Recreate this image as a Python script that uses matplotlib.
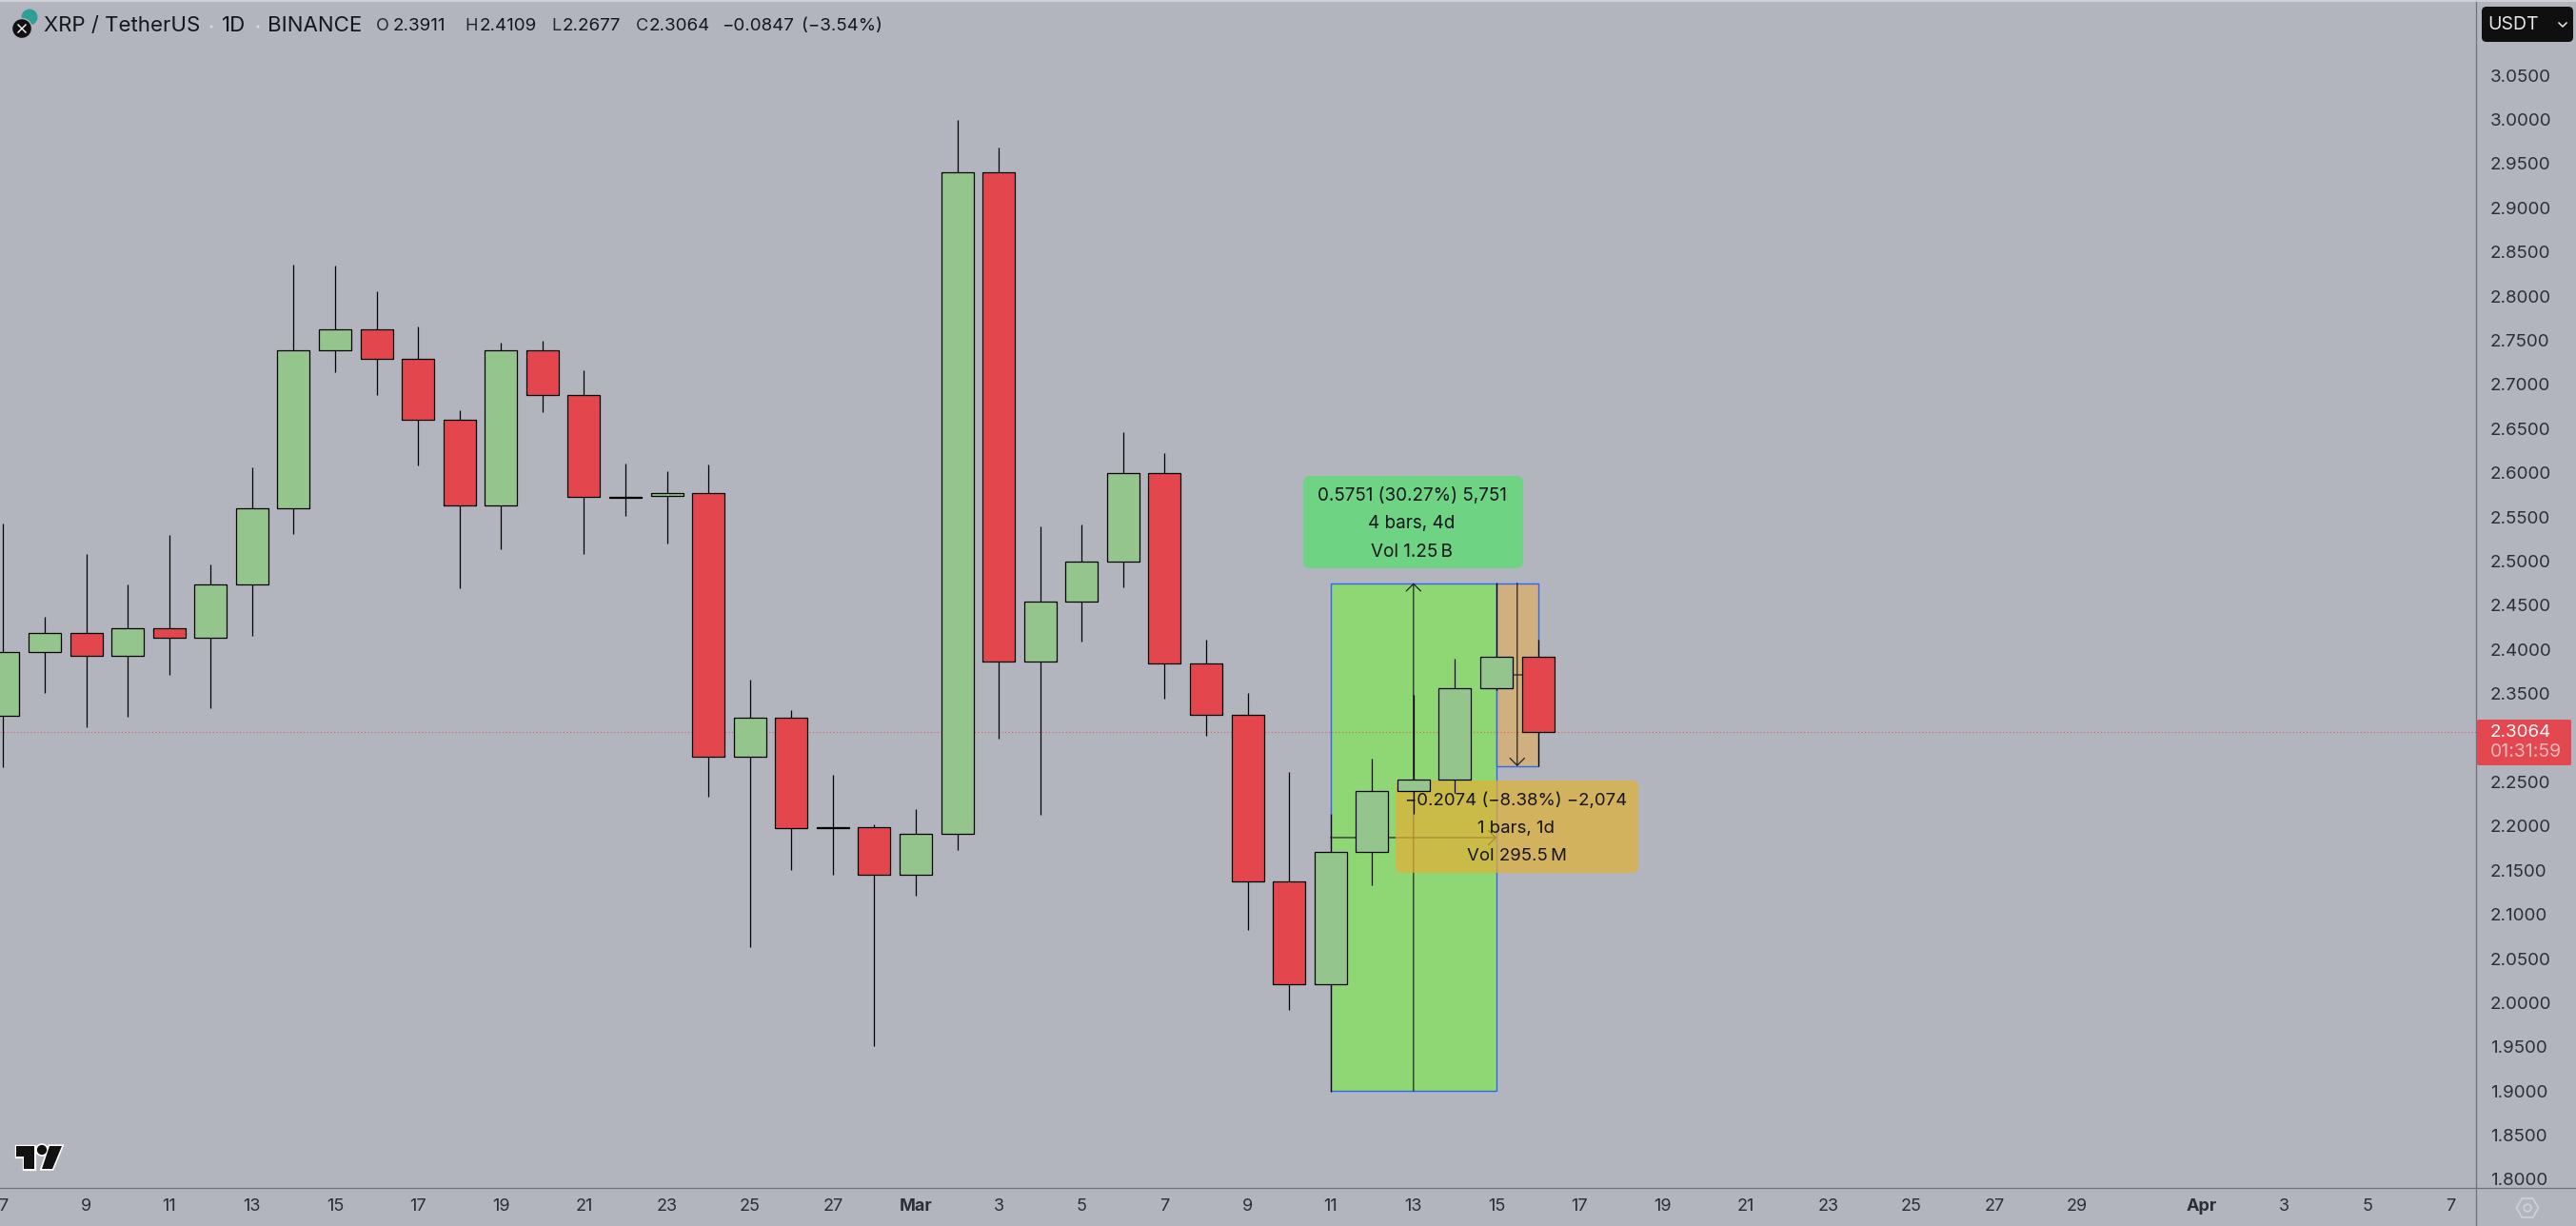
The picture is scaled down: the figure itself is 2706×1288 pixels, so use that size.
import matplotlib
matplotlib.use('Agg')
import matplotlib.pyplot as plt
import numpy as np
from matplotlib.lines import Line2D
from matplotlib.patches import Circle, FancyBboxPatch, Polygon, Rectangle, RegularPolygon
from matplotlib.transforms import Affine2D

plt.rcParams['font.family'] = ['Inter', 'DejaVu Sans']

# days counted from 1 March, one candle per day (7 Feb .. 16 Mar)
days = list(range(-22, 16))
opens = [2.3243, 2.3967, 2.4183, 2.3923, 2.4238, 2.4127, 2.4732, 2.5593, 2.7381, 2.7619,
         2.7285, 2.6598, 2.5626, 2.7381, 2.6876, 2.5722, 2.5734, 2.5767, 2.2780, 2.3223,
         2.1971, 2.1983, 2.1446, 2.1908, 2.9396, 2.3865, 2.4536, 2.4998, 2.5999, 2.3843,
         2.3259, 2.1376, 2.0209, 2.1707, 2.2397, 2.2526, 2.3560, 2.3911]
highs = [2.5425, 2.4368, 2.5080, 2.4735, 2.5296, 2.4962, 2.6060, 2.8357, 2.8346, 2.8053,
         2.7656, 2.6706, 2.7474, 2.7492, 2.7158, 2.6105, 2.6019, 2.6094, 2.3658, 2.3313,
         2.2580, 2.2017, 2.2192, 2.9996, 2.9682, 2.5394, 2.5416, 2.6460, 2.6224, 2.4107,
         2.3506, 2.2612, 2.2138, 2.2763, 2.3485, 2.3894, 2.4756, 2.4109]
lows = [2.2666, 2.3511, 2.3114, 2.3240, 2.3715, 2.3329, 2.4153, 2.5311, 2.7140, 2.6884,
        2.6086, 2.4695, 2.5129, 2.6680, 2.5084, 2.5515, 2.5203, 2.2337, 2.0633, 2.1506,
        2.1451, 1.9512, 2.1216, 2.1732, 2.2986, 2.2123, 2.4085, 2.4707, 2.3437, 2.3019,
        2.0827, 1.9922, 1.8995, 2.1333, 2.2138, 2.2375, 2.3539, 2.2677]
closes = [2.3967, 2.4183, 2.3923, 2.4238, 2.4127, 2.4732, 2.5593, 2.7381, 2.7619, 2.7285,
          2.6598, 2.5626, 2.7381, 2.6876, 2.5722, 2.5716, 2.5767, 2.2780, 2.3223, 2.1971,
          2.1985, 2.1446, 2.1907, 2.9396, 2.3865, 2.4536, 2.4998, 2.5999, 2.3843, 2.3255,
          2.1376, 2.0209, 2.1707, 2.2397, 2.2526, 2.3560, 2.3916, 2.3064]

price_ticks = [1.80, 1.85, 1.90, 1.95, 2.00, 2.05, 2.10, 2.15, 2.20, 2.25, 2.35, 2.40, 2.45,
               2.50, 2.55, 2.60, 2.65, 2.70, 2.75, 2.80, 2.85, 2.90, 2.95, 3.00, 3.05]
date_ticks = [-22, -20, -18, -16, -14, -12, -10, -8, -6, -4, -2, 0, 2, 4, 6, 8, 10, 12, 14,
              16, 18, 20, 22, 24, 26, 28, 31, 33, 35, 37]
date_labels = ['7', '9', '11', '13', '15', '17', '19', '21', '23', '25', '27', 'Mar', '3', '5',
               '7', '9', '11', '13', '15', '17', '19', '21', '23', '25', '27', '29', 'Apr',
               '3', '5', '7']

last_price = 2.3064
long_day = [10, 14]
long_price = [1.9000, 2.4751]
long_mid = 2.1869
short_day = [14, 15]
short_price = [2.4751, 2.2677]
short_mid = 2.3711

BG = '#b2b5bd'
GREEN = '#93c58d'
RED = '#e3474d'
INK = '#14161d'
TICK = '#2a2e39'
AXIS = '#6e7178'
BLUE = '#3366ee'

W, H = 2706, 1288
fig = plt.figure(figsize=(W / 100, H / 100), dpi=100, facecolor=BG)
ax = fig.add_axes([0, (H - 1248) / H, 2601 / W, 1248 / H], facecolor=BG)

# pixel coordinates (y down) for everything that is screen furniture
px = Affine2D().scale(1, -1).translate(0, H)


def label(x, y, s, size=14, color=INK, ha='left', weight='normal', z=8):
    ax.text(x, y, s, transform=px, fontsize=size, color=color, ha=ha, va='center',
            fontweight=weight, zorder=z)


def line(xs, ys, color=AXIS, lw=0.9, z=9):
    ax.add_line(Line2D(xs, ys, transform=px, color=color, lw=lw, zorder=z, clip_on=False))


def chrome(patch):
    patch.set_transform(px)
    patch.set_clip_on(False)
    ax.add_patch(patch)


# position tool boxes
ax.add_patch(Rectangle((long_day[0], long_price[0]), long_day[1] - long_day[0],
                       long_price[1] - long_price[0], fc='#8fd675', ec=BLUE, lw=1.0, zorder=1))
ax.add_patch(Rectangle((short_day[0], short_price[1]), short_day[1] - short_day[0],
                       short_price[0] - short_price[1], fc='#d0b07e', ec=BLUE, lw=1.0, zorder=1))

# last price line
ax.axhline(last_price, color=RED, lw=0.75, ls=(0, (1, 2.4)), alpha=0.85, zorder=1.5)

# arrows of the measure tools
arrow = dict(arrowstyle='->,head_length=0.55,head_width=0.55', color='#1c1c1c', lw=0.85,
             shrinkA=0, shrinkB=0)
long_x = (long_day[0] + long_day[1]) / 2
short_x = (short_day[0] + short_day[1]) / 2
ax.annotate('', xy=(long_x, long_price[1]), xytext=(long_x, long_price[0]), arrowprops=arrow, zorder=2)
ax.annotate('', xy=(long_day[1], long_mid), xytext=(long_day[0], long_mid), arrowprops=arrow, zorder=2)
ax.annotate('', xy=(short_x, short_price[1]), xytext=(short_x, short_price[0]), arrowprops=arrow, zorder=2)
ax.annotate('', xy=(short_day[1], short_mid), xytext=(short_day[0], short_mid), arrowprops=arrow, zorder=2)

# measure labels
chrome(FancyBboxPatch((1369, 500), 231, 97, boxstyle='round,pad=0,rounding_size=7',
                      fc='#6fd384', ec='none', zorder=3))
chrome(FancyBboxPatch((1466, 820), 255, 97, boxstyle='round,pad=0,rounding_size=7',
                      fc='#e1b138', ec='none', alpha=0.72, zorder=3))

# candles
days_a = np.array(days)
opens_a, closes_a = np.array(opens), np.array(closes)
colors = [GREEN if c >= o else RED for o, c in zip(opens, closes)]
ax.vlines(days_a, lows, highs, color='black', lw=0.9, zorder=4)
ax.bar(days_a, np.abs(closes_a - opens_a), bottom=np.minimum(opens_a, closes_a), width=0.78,
       color=colors, edgecolor='black', linewidth=0.9, zorder=5)

label(1483, 521, '0.5751 (30.27%) 5,751', size=13.6, ha='center')
label(1483, 550, '4 bars, 4d', size=13.6, ha='center')
label(1483, 580, 'Vol 1.25\u2009B', size=13.6, ha='center')
label(1593, 841, '\u22120.2074 (\u22128.38%) \u22122,074', size=13.4, ha='center')
label(1593, 870, '1 bars, 1d', size=13.4, ha='center')
label(1593, 900, 'Vol 295.5\u2009M', size=13.4, ha='center')

# axes
ax.set_xlim(-962 / 43.57, (2601 - 962) / 43.57)
ax.set_ylim(3.05 - 1169 / 928, 3.05 + 79 / 928)
for s in ax.spines.values():
    s.set_visible(False)
ax.yaxis.tick_right()
ax.set_yticks(price_ticks)
ax.set_yticklabels([f'{p:.4f}' for p in price_ticks])
ax.set_xticks(date_ticks)
ax.set_xticklabels(date_labels)
ax.tick_params(axis='y', length=0, pad=10.8, labelsize=13.5, labelcolor=TICK)
ax.tick_params(axis='x', length=0, pad=8, labelsize=13, labelcolor=TICK)
for t in ax.get_xticklabels():
    if t.get_text() in ('Mar', 'Apr'):
        t.set_fontweight('bold')

line([2601, 2601], [0, H])
line([0, W], [1248, 1248])
line([0, W], [0.5, 0.5], color='#d4d6da', lw=1.2)

# header
chrome(Circle((31, 18), 8.5, fc='#2f9e97', ec='none', zorder=8))
chrome(Circle((23, 30), 10.5, fc='#111111', ec=BG, lw=1, zorder=8.5))
line([19, 27], [26, 34], color='white', lw=1.0, z=8.6)
line([19, 27], [34, 26], color='white', lw=1.0, z=8.6)
label(46, 27, 'XRP / TetherUS', size=16)
label(233, 27, '1D', size=16)
label(281, 27, 'BINANCE', size=16)
chrome(Circle((222, 28), 1.5, fc='#d8dadd', ec='none', zorder=8))
chrome(Circle((271, 28), 1.5, fc='#d8dadd', ec='none', zorder=8))
for x, s in [(395, 'O'), (488, 'H'), (579, 'L'), (668, 'C')]:
    label(x, 27, s, size=13, color='#24272f')
for x, s in [(413, '2.3911'), (504, '2.4109'), (591, '2.2677'), (682, '2.3064'),
             (758, '\u22120.0847'), (842, '(\u22123.54%)')]:
    label(x, 27, s, size=13.5)

# currency button
chrome(FancyBboxPatch((2607, 7), 96, 37, boxstyle='round,pad=0,rounding_size=5',
                      fc='#0f0f0f', ec='none', zorder=8))
label(2613, 26, 'USDT', size=14, color='#e8e8ea', z=9)
line([2688, 2692, 2696], [24, 28, 24], color='#e8e8ea', lw=1.1)

# last price tag
chrome(FancyBboxPatch((2602, 756), 99, 48, boxstyle='round,pad=0,rounding_size=2',
                      fc='#e3474f', ec='none', zorder=8))
label(2616, 770, '2.3064', size=13.5, color='white', z=9)
label(2616, 790, '01:31:59', size=14, color='#f6b9bc', z=9)

# settings hexagon
chrome(RegularPolygon((2655, 1269), 6, radius=11.5, orientation=np.pi / 6, fc='none',
                      ec='#cfd1d6', lw=1.2, zorder=8))
chrome(Circle((2655, 1269), 3.8, fc='none', ec='#cfd1d6', lw=1.2, zorder=8))

# TradingView mark
tv_t = [(17, 1204), (36, 1204), (36, 1228), (25, 1228), (25, 1215), (17, 1215)]
tv_v = [(52, 1204), (65, 1204), (55, 1228), (44, 1228)]
for pts in (tv_t, tv_v):
    chrome(Polygon(pts, closed=True, fc='#111111', ec='white', lw=2.4, joinstyle='miter', zorder=8))
    chrome(Polygon(pts, closed=True, fc='#111111', ec='none', zorder=8.1))
chrome(Circle((44, 1208), 6, fc='#111111', ec='white', lw=1.2, zorder=8))

fig.savefig('out.png', dpi=100, facecolor=BG)
